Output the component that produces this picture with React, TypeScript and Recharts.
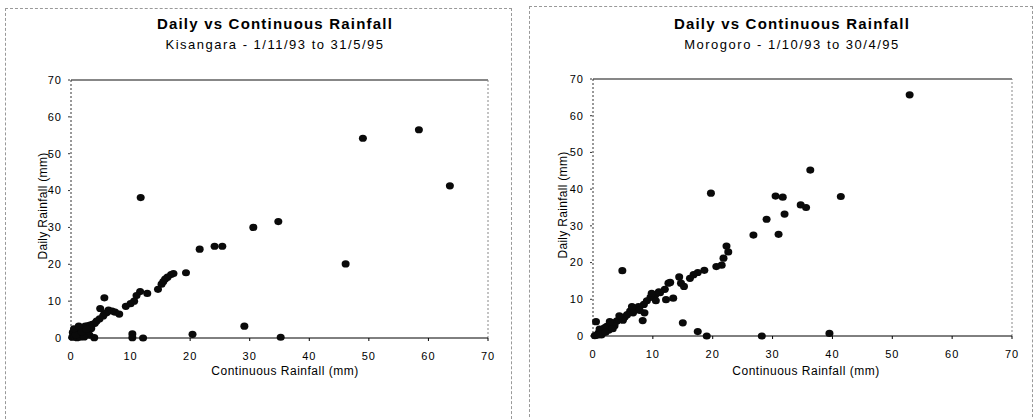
import { ScatterChart, Scatter, XAxis, YAxis, ReferenceLine } from 'recharts'

const axisTicks = [0, 10, 20, 30, 40, 50, 60, 70]

// Kisangara - continuous (x) vs daily (y), mm
const kisangaraContinuous = [
    49.0, 58.4, 63.6, 46.1, 34.8, 30.6, 24.1, 25.4, 21.6, 19.3, 29.1, 35.2, 20.4, 12.1, 10.3, 10.3, 11.7, 5.6,
    17.2, 16.8, 16.2, 15.8, 15.5, 15.2, 14.6, 12.8, 11.6, 11.0, 10.6, 10.0, 9.2, 8.1, 7.4, 6.9, 6.3, 6.0, 5.6,
    4.9, 5.4, 4.8, 4.3, 4.0, 3.6, 3.2, 2.8, 2.4, 2.0, 1.6, 1.2, 1.0, 0.7, 0.4, 0.3, 0.2, 0.6, 1.0, 1.5, 2.0,
    2.5, 2.9, 3.1, 3.9, 1.4, 0.8, 2.2, 1.8, 3.4, 2.6, 0.5, 1.3,
]
const kisangaraDaily = [
    54.2, 56.5, 41.3, 20.1, 31.6, 30.0, 24.9, 24.9, 24.1, 17.7, 3.2, 0.2, 1.0, 0.0, 1.1, 0.1, 38.1, 10.9,
    17.5, 17.2, 16.5, 16.0, 15.3, 14.6, 13.2, 12.1, 12.6, 11.5, 10.0, 9.3, 8.6, 6.5, 7.0, 7.3, 7.6, 6.9, 6.6,
    8.0, 6.0, 5.2, 4.6, 4.0, 3.7, 3.5, 3.3, 3.2, 2.9, 2.7, 2.4, 2.0, 1.4, 0.7, 1.5, 0.2, 0.3, 0.1, 0.2, 0.8,
    1.7, 1.2, 0.8, 0.1, 1.1, 0.9, 0.3, 1.6, 2.6, 2.4, 2.5, 3.2,
]

// Morogoro - continuous (x) vs daily (y), mm
const morogoroContinuous = [
    52.9, 36.3, 41.4, 34.7, 35.6, 30.5, 31.7, 32.0, 31.0, 29.0, 26.8, 19.7, 22.3, 22.6, 21.8, 21.5, 20.6,
    18.6, 17.5, 16.8, 16.2, 14.4, 14.7, 15.2, 12.6, 12.0, 11.2, 10.4, 9.6, 9.0, 8.5, 7.6, 7.1, 6.2, 5.7, 4.8,
    4.0, 3.2, 2.3, 1.7, 0.9, 0.3, 0.5, 8.3, 8.6, 6.5, 5.3, 2.6, 1.4, 12.2, 13.4, 15.0, 17.5, 19.0, 28.2, 39.5,
    4.9, 10.5, 9.8, 7.8, 6.7, 5.0, 3.6, 2.8, 1.9, 1.1, 0.7, 1.2, 2.1, 11.0, 12.9, 4.4, 3.3,
]
const morogoroDaily = [
    65.7, 45.2, 38.0, 35.7, 35.0, 38.1, 37.8, 33.2, 27.7, 31.8, 27.5, 38.9, 24.5, 22.9, 21.2, 19.3, 18.9,
    17.9, 17.3, 16.7, 15.7, 16.1, 14.4, 13.5, 14.4, 12.7, 11.8, 11.2, 10.5, 9.6, 8.6, 8.0, 7.2, 6.8, 5.8, 4.9,
    4.1, 3.6, 2.6, 1.7, 0.8, 0.1, 3.9, 4.2, 6.3, 8.0, 5.2, 1.6, 0.3, 9.9, 10.3, 3.6, 1.2, 0.0, 0.0, 0.7,
    17.8, 9.6, 11.6, 7.0, 6.3, 4.3, 2.8, 3.9, 2.2, 1.9, 0.2, 0.5, 1.0, 12.0, 14.6, 5.5, 2.0,
]

const zip = (xs: number[], ys: number[]) => xs.map((x, i) => ({ x, y: ys[i] }))

const font = '"Liberation Sans", Arial, sans-serif'
const tickStyle = { fontSize: 11, fill: '#000', fontFamily: font, letterSpacing: 1 }

const Dot = (props: any) => <ellipse cx={props.cx} cy={props.cy} rx={4} ry={3.6} fill="#0a0a0a" />

type PanelProps = {
    left: number
    width: number
    title: string
    subtitle: string
    data: { x: number; y: number }[]
    margin: { top: number; right: number; bottom: number; left: number }
    titleX: number
    xLabelX: number
    yLabel: { x: number; y: number }
}

const Panel = ({ left, width, title, subtitle, data, margin, titleX, xLabelX, yLabel }: PanelProps) => (
    <div style={{ position: 'absolute', left, top: 0, width, height: 419 }}>
        <div style={{ position: 'absolute', left: titleX - 200, width: 400, top: 15, textAlign: 'center', fontWeight: 'bold', fontSize: 15, letterSpacing: 1.2, color: '#000' }}>
            {title}
        </div>
        <div style={{ position: 'absolute', left: titleX - 200, width: 400, top: 37, textAlign: 'center', fontSize: 13, letterSpacing: 1.5, color: '#000' }}>
            {subtitle}
        </div>
        <ScatterChart width={width} height={419} margin={margin}>
            <XAxis type="number" dataKey="x" domain={[0, 70]} ticks={axisTicks} interval={0}
                tick={tickStyle} tickSize={3} tickMargin={11}
                stroke="#000" height={30} />
            <YAxis type="number" dataKey="y" domain={[0, 70]} ticks={axisTicks} interval={0}
                tick={tickStyle} tickSize={3} tickMargin={6}
                stroke="#333" strokeDasharray="2 2" width={30} />
            <ReferenceLine y={70} stroke="#111" strokeWidth={1.2} />
            <ReferenceLine x={70} stroke="#888" strokeDasharray="2 2" />
            <Scatter data={data} fill="#0a0a0a" shape={<Dot />} isAnimationActive={false} />
        </ScatterChart>
        <div style={{ position: 'absolute', left: xLabelX - 150, width: 300, top: 364, textAlign: 'center', fontSize: 12, letterSpacing: 0.5, color: '#000' }}>
            Continuous Rainfall (mm)
        </div>
        <div style={{ position: 'absolute', left: yLabel.x - 80, top: yLabel.y - 8, width: 160, textAlign: 'center', fontSize: 12, letterSpacing: 0.3, color: '#000', transform: 'rotate(-90deg)', lineHeight: '16px' }}>
            Daily Rainfall (mm)
        </div>
    </div>
)

export default function App() {
    return (
        <div style={{ position: 'absolute', left: 0, top: 0, width: 1033, height: 419, background: '#fff', fontFamily: font, overflow: 'hidden' }}>
            {/* scanned panel frames */}
            <div style={{ position: 'absolute', left: 5, top: 8, width: 505, height: 420, border: '1px dashed #999', borderBottom: 'none' }} />
            <div style={{ position: 'absolute', left: 529, top: 6, width: 502, height: 420, border: '1px dashed #999', borderBottom: 'none' }} />
            <Panel left={0} width={516} title="Daily vs Continuous Rainfall" subtitle="Kisangara - 1/11/93 to 31/5/95"
                data={zip(kisangaraContinuous, kisangaraDaily)}
                margin={{ top: 80, right: 28, bottom: 51, left: 41 }}
                titleX={275} xLabelX={285} yLabel={{ x: 43, y: 206 }} />
            <Panel left={516} width={517} title="Daily vs Continuous Rainfall" subtitle="Morogoro - 1/10/93 to 30/4/95"
                data={zip(morogoroContinuous, morogoroDaily)}
                margin={{ top: 79, right: 21, bottom: 53, left: 47 }}
                titleX={276} xLabelX={290} yLabel={{ x: 47, y: 205 }} />
        </div>
    )
}
